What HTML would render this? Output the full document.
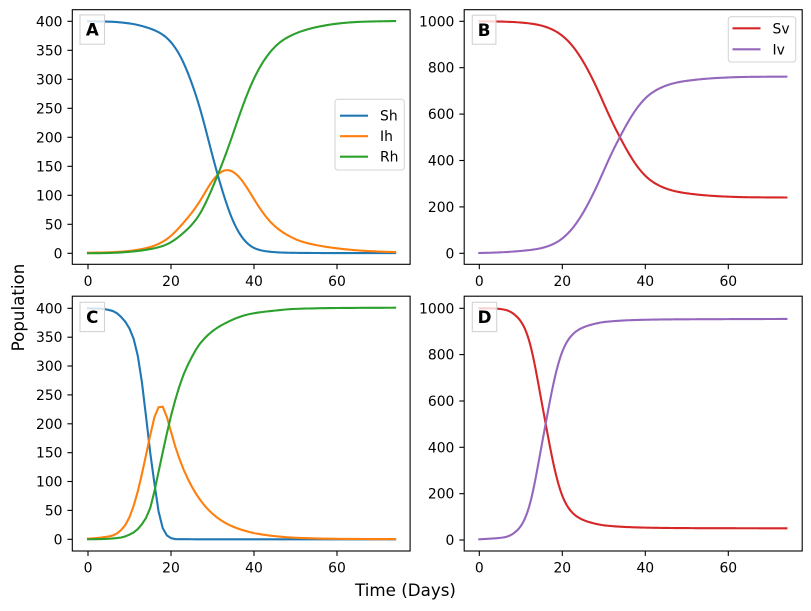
<!DOCTYPE html>
<html>
<head>
<meta charset="utf-8">
<style>
html,body{margin:0;padding:0;background:#fff;}
svg{display:block;}
text{font-family:"DejaVu Sans","Liberation Sans",sans-serif;fill:#000;}
.tk{font-size:13.9px;}
.lg{font-size:13.9px;}
.pl{font-size:16.7px;font-weight:bold;}
.ax{font-size:16.7px;}
</style>
</head>
<body>
<svg id="fig" width="811" height="611" viewBox="0 0 811 611" xmlns="http://www.w3.org/2000/svg">
<rect x="0" y="0" width="811" height="611" fill="#fff"/>
<g id="curves"></g>

<!-- Axes frames -->
<g fill="none" stroke="#000" stroke-width="1.1">
<rect x="72.3" y="9.7" width="337.8" height="254.6"/>
<rect x="464.2" y="9.7" width="338" height="254.6"/>
<rect x="72.3" y="296.2" width="337.8" height="254.8"/>
<rect x="464.2" y="296.2" width="338" height="254.8"/>
</g>

<!-- Tick marks -->
<g stroke="#000" stroke-width="1.1">
<line x1="67.4" x2="72.3" y1="253.3" y2="253.3"/><line x1="67.4" x2="72.3" y1="224.3" y2="224.3"/><line x1="67.4" x2="72.3" y1="195.3" y2="195.3"/><line x1="67.4" x2="72.3" y1="166.3" y2="166.3"/><line x1="67.4" x2="72.3" y1="137.3" y2="137.3"/><line x1="67.4" x2="72.3" y1="108.3" y2="108.3"/><line x1="67.4" x2="72.3" y1="79.3" y2="79.3"/><line x1="67.4" x2="72.3" y1="50.3" y2="50.3"/><line x1="67.4" x2="72.3" y1="21.3" y2="21.3"/>
<line x1="88" x2="88" y1="264.3" y2="269.2"/><line x1="171" x2="171" y1="264.3" y2="269.2"/><line x1="254" x2="254" y1="264.3" y2="269.2"/><line x1="337" x2="337" y1="264.3" y2="269.2"/>
<line x1="459.3" x2="464.2" y1="253.3" y2="253.3"/><line x1="459.3" x2="464.2" y1="206.9" y2="206.9"/><line x1="459.3" x2="464.2" y1="160.5" y2="160.5"/><line x1="459.3" x2="464.2" y1="114.1" y2="114.1"/><line x1="459.3" x2="464.2" y1="67.7" y2="67.7"/><line x1="459.3" x2="464.2" y1="21.3" y2="21.3"/>
<line x1="479.3" x2="479.3" y1="264.3" y2="269.2"/><line x1="562.3" x2="562.3" y1="264.3" y2="269.2"/><line x1="645.3" x2="645.3" y1="264.3" y2="269.2"/><line x1="728.3" x2="728.3" y1="264.3" y2="269.2"/>
<line x1="67.4" x2="72.3" y1="539.3" y2="539.3"/><line x1="67.4" x2="72.3" y1="510.4" y2="510.4"/><line x1="67.4" x2="72.3" y1="481.5" y2="481.5"/><line x1="67.4" x2="72.3" y1="452.7" y2="452.7"/><line x1="67.4" x2="72.3" y1="423.8" y2="423.8"/><line x1="67.4" x2="72.3" y1="394.9" y2="394.9"/><line x1="67.4" x2="72.3" y1="366.0" y2="366.0"/><line x1="67.4" x2="72.3" y1="337.2" y2="337.2"/><line x1="67.4" x2="72.3" y1="308.3" y2="308.3"/>
<line x1="88" x2="88" y1="551" y2="555.9"/><line x1="171" x2="171" y1="551" y2="555.9"/><line x1="254" x2="254" y1="551" y2="555.9"/><line x1="337" x2="337" y1="551" y2="555.9"/>
<line x1="459.3" x2="464.2" y1="540" y2="540"/><line x1="459.3" x2="464.2" y1="493.7" y2="493.7"/><line x1="459.3" x2="464.2" y1="447.3" y2="447.3"/><line x1="459.3" x2="464.2" y1="401.0" y2="401.0"/><line x1="459.3" x2="464.2" y1="354.6" y2="354.6"/><line x1="459.3" x2="464.2" y1="308.3" y2="308.3"/>
<line x1="479.3" x2="479.3" y1="551" y2="555.9"/><line x1="562.3" x2="562.3" y1="551" y2="555.9"/><line x1="645.3" x2="645.3" y1="551" y2="555.9"/><line x1="728.3" x2="728.3" y1="551" y2="555.9"/>
</g>

<!-- Tick labels -->
<g class="tk" text-anchor="end">
<text x="62.5" y="258.3">0</text><text x="62.5" y="229.3">50</text><text x="62.5" y="200.3">100</text><text x="62.5" y="171.3">150</text><text x="62.5" y="142.3">200</text><text x="62.5" y="113.3">250</text><text x="62.5" y="84.3">300</text><text x="62.5" y="55.3">350</text><text x="62.5" y="26.3">400</text>
<text x="454.4" y="258.3">0</text><text x="454.4" y="211.9">200</text><text x="454.4" y="165.5">400</text><text x="454.4" y="119.1">600</text><text x="454.4" y="72.7">800</text><text x="454.4" y="26.3">1000</text>
<text x="62.5" y="544.3">0</text><text x="62.5" y="515.4">50</text><text x="62.5" y="486.5">100</text><text x="62.5" y="457.7">150</text><text x="62.5" y="428.8">200</text><text x="62.5" y="399.9">250</text><text x="62.5" y="371.0">300</text><text x="62.5" y="342.2">350</text><text x="62.5" y="313.3">400</text>
<text x="454.4" y="545">0</text><text x="454.4" y="498.7">200</text><text x="454.4" y="452.3">400</text><text x="454.4" y="406.0">600</text><text x="454.4" y="359.6">800</text><text x="454.4" y="313.3">1000</text>
</g>
<g class="tk" text-anchor="middle">
<text x="88" y="285.8">0</text><text x="171" y="285.8">20</text><text x="254" y="285.8">40</text><text x="337" y="285.8">60</text>
<text x="479.3" y="285.8">0</text><text x="562.3" y="285.8">20</text><text x="645.3" y="285.8">40</text><text x="728.3" y="285.8">60</text>
<text x="88" y="572.3">0</text><text x="171" y="572.3">20</text><text x="254" y="572.3">40</text><text x="337" y="572.3">60</text>
<text x="479.3" y="572.3">0</text><text x="562.3" y="572.3">20</text><text x="645.3" y="572.3">40</text><text x="728.3" y="572.3">60</text>
</g>

<!-- Legends -->
<g>
<rect x="335" y="99.3" width="69.3" height="70.7" rx="2.8" ry="2.8" fill="#fff" fill-opacity="0.8" stroke="#cccccc" stroke-opacity="0.8" stroke-width="1.1"/>
<line x1="340" x2="368" y1="115.7" y2="115.7" stroke="#1f77b4" stroke-width="2.1"/>
<line x1="340" x2="368" y1="136.2" y2="136.2" stroke="#ff7f0e" stroke-width="2.1"/>
<line x1="340" x2="368" y1="156.7" y2="156.7" stroke="#2ca02c" stroke-width="2.1"/>
<text class="lg" x="380" y="120.7">Sh</text>
<text class="lg" x="380" y="141.2">Ih</text>
<text class="lg" x="380" y="161.7">Rh</text>

<rect x="728.3" y="16.7" width="67.4" height="45.3" rx="2.8" ry="2.8" fill="#fff" fill-opacity="0.8" stroke="#cccccc" stroke-opacity="0.8" stroke-width="1.1"/>
<line x1="732.5" x2="760.5" y1="28.3" y2="28.3" stroke="#d62728" stroke-width="2.1"/>
<line x1="732.5" x2="760.5" y1="49.3" y2="49.3" stroke="#9467bd" stroke-width="2.1"/>
<text class="lg" x="772.5" y="33.3">Sv</text>
<text class="lg" x="772.5" y="54.3">Iv</text>
</g>

<!-- Panel labels -->
<g>
<rect x="80" y="14.9" width="24.5" height="29.3" fill="#fff" fill-opacity="0.8" stroke="#d3d3d3" stroke-width="1.1"/>
<text class="pl" x="92.3" y="35.6" text-anchor="middle">A</text>
<rect x="472.3" y="15.2" width="23.6" height="29" fill="#fff" fill-opacity="0.8" stroke="#d3d3d3" stroke-width="1.1"/>
<text class="pl" x="484.1" y="35.8" text-anchor="middle">B</text>
<rect x="80" y="302.3" width="24.5" height="29.3" fill="#fff" fill-opacity="0.8" stroke="#d3d3d3" stroke-width="1.1"/>
<text class="pl" x="92.3" y="323" text-anchor="middle">C</text>
<rect x="472.3" y="302.3" width="24.4" height="29.3" fill="#fff" fill-opacity="0.8" stroke="#d3d3d3" stroke-width="1.1"/>
<text class="pl" x="484.5" y="323" text-anchor="middle">D</text>
</g>

<!-- Axis labels -->
<text class="ax" x="405.5" y="596" text-anchor="middle">Time (Days)</text>
<text class="ax" transform="translate(24,307.5) rotate(-90)" text-anchor="middle">Population</text>
</svg>

<script>
(function(){
function pchip(pts){
  var n=pts.length,x=[],y=[],h=[],d=[],m=[],i;
  for(i=0;i<n;i++){x.push(pts[i][0]);y.push(pts[i][1]);}
  for(i=0;i<n-1;i++){h[i]=x[i+1]-x[i];d[i]=(y[i+1]-y[i])/h[i];}
  m[0]=d[0];m[n-1]=d[n-2];
  for(i=1;i<n-1;i++){
    if(d[i-1]*d[i]<=0){m[i]=0;}
    else{var w1=2*h[i]+h[i-1],w2=h[i]+2*h[i-1];m[i]=(w1+w2)/(w1/d[i-1]+w2/d[i]);}
  }
  return function(t){
    if(t<x[0])t=x[0];
    if(t>x[n-1])t=x[n-1];
    var k=0;
    while(k<n-2 && t>x[k+1])k++;
    var hh=h[k],s=(t-x[k])/hh;
    if(s<0)s=0;if(s>1)s=1;
    var s2=s*s,s3=s2*s;
    return (2*s3-3*s2+1)*y[k]+(s3-2*s2+s)*hh*m[k]+(-2*s3+3*s2)*y[k+1]+(s3-s2)*hh*m[k+1];
  };
}
function smoothed(f,sigma){
  if(!sigma)return f;
  var dt=0.05,T0=-10,N=Math.round(94/dt),vals=[],k;
  for(k=0;k<=N;k++){vals.push(f(T0+k*dt));}
  return function(t){
    var sw=0,sv=0,r=4*sigma;
    var k0=Math.max(0,Math.floor((t-r-T0)/dt)),k1=Math.min(N,Math.ceil((t+r-T0)/dt));
    for(var j=k0;j<=k1;j++){
      var tt=T0+j*dt,w=Math.exp(-(tt-t)*(tt-t)/(2*sigma*sigma));
      sw+=w;sv+=w*vals[j];
    }
    return sv/sw;
  };
}
var panels=[
 {x0:88,sx:4.15,y0:253.3,sy:0.58,step:0.5,sig:1.3,series:[
  ["#1f77b4",[[0,400],[5,399.5],[10,396.5],[14.9,388],[18.9,373.5],[21.3,353],[22.9,333],[24.5,304],[26.1,272],[27,253],[28.6,207],[30.2,161],[31.8,121],[33.4,83],[35,52],[37.4,23],[39.8,8.5],[43.1,3],[47.9,1],[55,0.5],[74,0.3]]],
  ["#ff7f0e",[[0,1],[5,1.6],[10,4],[14.9,10.3],[18.9,23],[22.9,51.7],[27,89],[29.4,120.6],[31.8,141],[33.4,146.5],[35.8,138],[38.2,115],[40.6,86],[43.1,60],[45.5,43],[48.7,28.5],[51,21],[55,14],[60,8.5],[65,5],[70,3],[74,2]]],
  ["#2ca02c",[[0,0],[5,0.5],[10,2.5],[14.9,7],[18.9,14.3],[22.9,34.4],[27,66],[29.4,103],[31.8,144],[34.2,190],[36.6,241],[39,287],[41.4,322],[43.9,348],[46.3,365],[48.7,375],[51,382],[55,390],[60,396],[65,399],[74,400.5]]]
 ]},
 {x0:479.3,sx:4.15,y0:253.3,sy:0.232,step:0.5,sig:1.3,series:[
  ["#d62728",[[0,1000],[5,999],[10,995],[14.57,984],[18.6,957],[21.8,910],[24.2,853],[26.6,777],[29,688],[31.37,588],[33.77,504],[36.17,424],[38.57,360],[40.97,316],[44.17,284],[47.37,266],[50.57,257],[55,249],[60,244],[65,241.5],[74,240.5]]],
  ["#9467bd",[[0,1],[5,4],[10,10],[14.57,20],[18.6,45],[21.8,91.5],[24.2,148.5],[26.6,225],[29,314],[31.37,414],[33.77,498],[36.17,578],[38.57,642],[40.97,686],[44.17,718],[47.37,736],[50.57,745],[55,753],[60,758],[65,760.5],[74,761.5]]]
 ]},
 {x0:88,sx:4.15,y0:539.3,sy:0.5775,step:1,sig:0.15,series:[
  ["#1f77b4",[[0,400],[2.88,399.4],[6.1,395],[8.5,381],[10.1,363.6],[11.3,340],[12.1,314],[12.9,277],[13.7,231],[14.5,179],[15.3,133],[16.1,92],[16.9,52],[17.7,26],[18.5,11.5],[19.7,2.8],[21.3,0.3],[30,0],[74,0]]],
  ["#ff7f0e",[[0,1],[2.88,2.8],[6.1,6.9],[8.5,20],[10.1,40],[11.7,75],[12.9,110],[14.1,150],[15.3,190],[16.1,214],[16.9,228],[17.7,232],[18.5,222],[19.3,205],[20.5,173],[22.1,138],[23.7,110],[26.1,78],[28.5,55],[31.7,34.6],[34.9,22],[40,10.8],[45,5.5],[50,2.7],[60,0.8],[74,0.3]]],
  ["#2ca02c",[[0,0],[2.88,0.3],[7.7,2.8],[10.9,11.5],[13.3,29],[14.9,52],[16.1,86],[17.3,127],[18.5,167],[19.7,205],[21.3,248],[22.9,283],[24.9,314],[26.9,338],[30.1,361],[33.3,375],[36.5,385],[38.9,390],[45,396],[50,399],[60,400.5],[74,401]]]
 ]},
 {x0:479.3,sx:4.15,y0:540,sy:0.2317,step:0.5,sig:0.7,series:[
  ["#d62728",[[0,1000],[2.57,1000],[6.57,993],[9,966],[10.6,930],[12.2,854.5],[13.4,756.5],[14.6,636],[15.8,521],[17,403.5],[18.2,298.5],[19.4,217],[21,149.5],[23.4,101.5],[26.6,76.5],[30.6,62],[38.6,54],[45,52],[55,51],[74,50.5]]],
  ["#9467bd",[[0,3],[2.57,5.5],[6.57,13],[9,38],[10.6,74],[12.2,149.5],[13.4,247.5],[14.6,368],[15.8,483],[17,600.5],[18.2,705.5],[19.4,787],[21,854.5],[23.4,902.5],[26.6,927.5],[30.6,942],[38.6,950],[45,952],[55,953],[74,954]]]
 ]}
];
var g=document.getElementById("curves"),NS="http://www.w3.org/2000/svg";
panels.forEach(function(p){
  p.series.forEach(function(s){
    var f=smoothed(pchip(s[1]),p.sig),pts=[];
    for(var t=0;t<=74.0001;t+=p.step){
      var v=f(t);
      pts.push((p.x0+p.sx*t).toFixed(2)+","+(p.y0-p.sy*v).toFixed(2));
    }
    var pl=document.createElementNS(NS,"polyline");
    pl.setAttribute("points",pts.join(" "));
    pl.setAttribute("fill","none");
    pl.setAttribute("stroke",s[0]);
    pl.setAttribute("stroke-width","2.1");
    pl.setAttribute("stroke-linejoin","round");
    pl.setAttribute("stroke-linecap","square");
    g.appendChild(pl);
  });
});
})();
</script>
</body>
</html>
